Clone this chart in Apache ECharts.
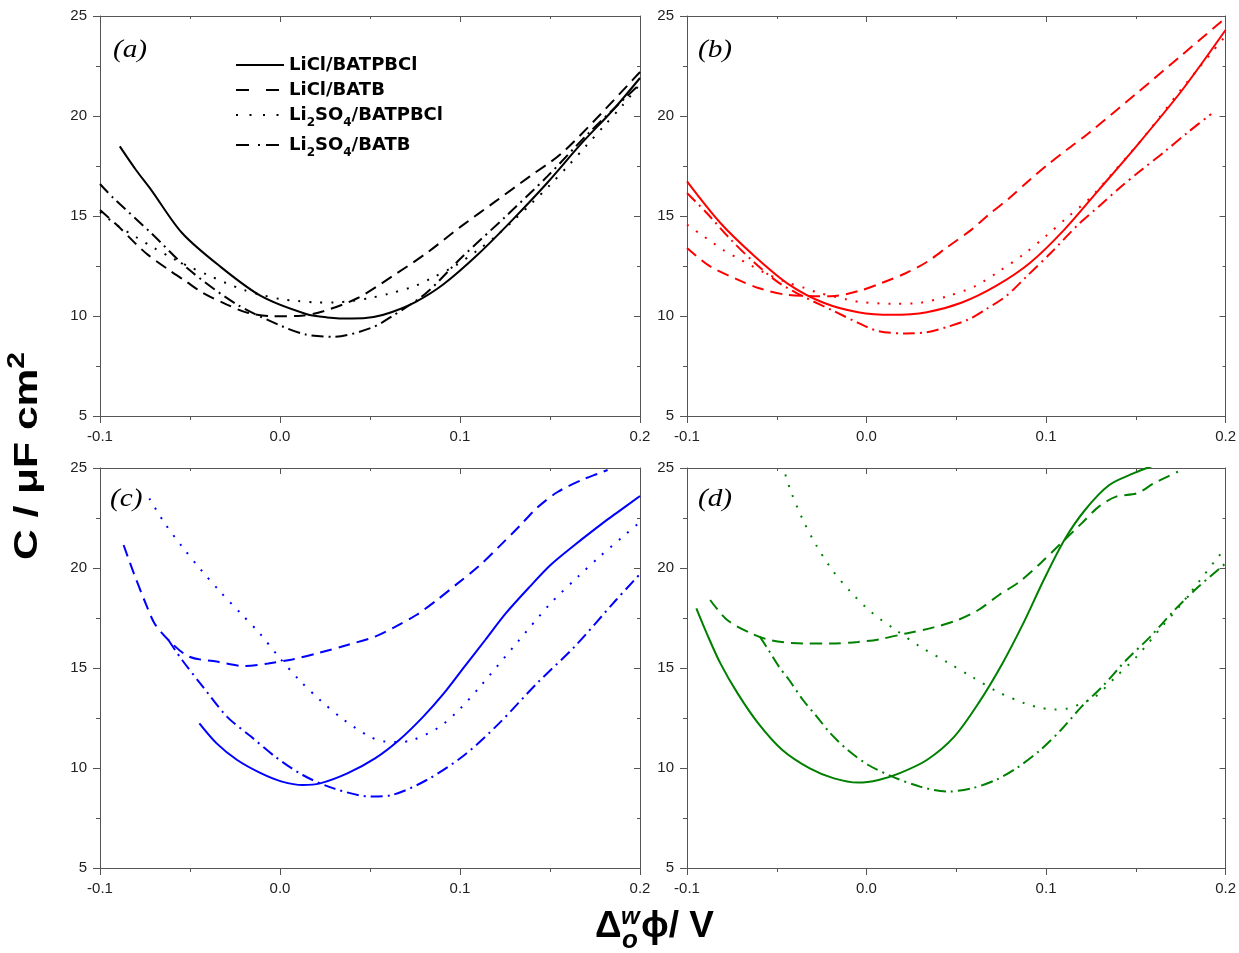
<!DOCTYPE html>
<html><head><meta charset="utf-8">
<script src="https://cdn.jsdelivr.net/npm/echarts@6/dist/echarts.min.js"></script>
<style>html,body{margin:0;padding:0;background:#fff}#c{width:1239px;height:953px}</style>
</head><body><div id="c"></div>
<script>
// ---- axis ranges / labels ----
const X_MIN = -0.1, X_MAX = 0.2, X_STEP = 0.1;
const Y_MIN = 5, Y_MAX = 25, Y_STEP = 5;
const seriesNames = ['LiCl/BATPBCl', 'LiCl/BATB', 'Li2SO4/BATPBCl', 'Li2SO4/BATB'];
const panelLabels = ['(a)', '(b)', '(c)', '(d)'];
const panelColors = ['#000000', '#ff0000', '#0000ff', '#008000'];

// ---- panel (a) ----
const aSolidX = [-0.089, -0.08, -0.0716, -0.0544, -0.0333, -0.0104, 0.0145, 0.0263, 0.04, 0.052, 0.0623, 0.0757, 0.091, 0.1102, 0.1293, 0.1484, 0.1676, 0.185, 0.2];
const aSolidY = [18.48, 17.3, 16.31, 14.15, 12.48, 10.99, 10.1, 9.93, 9.87, 9.95, 10.2, 10.72, 11.6, 13.1, 14.82, 16.65, 18.64, 20.3, 21.9];
const aDashX = [-0.1, -0.09, -0.08, -0.0735, -0.062, -0.0524, -0.0429, -0.0295, -0.018, -0.0046, 0.01, 0.0241, 0.0432, 0.0623, 0.0815, 0.1006, 0.1197, 0.1388, 0.156, 0.175, 0.2];
const aDashY = [15.3, 14.5, 13.6, 13.07, 12.32, 11.74, 11.16, 10.57, 10.16, 9.99, 10.0, 10.24, 10.9, 11.98, 13.15, 14.48, 15.73, 16.98, 18.1, 19.8, 22.2];
const aDotX = [-0.1, -0.09, -0.08, -0.07, -0.06, -0.05, -0.04, -0.03, -0.02, -0.01, 0.0, 0.01, 0.02, 0.03, 0.04, 0.05, 0.06, 0.0747, 0.0843, 0.0968, 0.11, 0.12, 0.13, 0.14, 0.15, 0.16, 0.17, 0.18, 0.19, 0.2];
const aDotY = [15.2, 14.5, 13.95, 13.4, 12.9, 12.45, 12.05, 11.65, 11.3, 11.05, 10.85, 10.75, 10.68, 10.68, 10.75, 10.9, 11.1, 11.49, 11.9, 12.48, 13.3, 14.0, 14.8, 15.65, 16.55, 17.5, 18.5, 19.5, 20.5, 21.6];
const aDDX = [-0.1, -0.0926, -0.0716, -0.0506, -0.0238, 0.0011, 0.0145, 0.0298, 0.0508, 0.0623, 0.0814, 0.1006, 0.1254, 0.1485, 0.1714, 0.2];
const aDDY = [16.6, 15.9, 14.15, 12.32, 10.57, 9.49, 9.07, 8.96, 9.41, 9.99, 11.16, 12.9, 14.98, 16.98, 19.14, 21.6];

// ---- panel (b) ----
const bSolidX = [-0.1, -0.0814, -0.0622, -0.0431, -0.0239, -0.0047, 0.0144, 0.0336, 0.0528, 0.0719, 0.091, 0.1102, 0.1294, 0.1486, 0.175, 0.2];
const bSolidY = [16.73, 14.65, 12.98, 11.57, 10.66, 10.19, 10.06, 10.19, 10.66, 11.49, 12.65, 14.32, 16.31, 18.31, 21.2, 24.3];
const bDashX = [-0.1, -0.0871, -0.0718, -0.0603, -0.045, -0.0201, -0.0047, 0.0087, 0.0221, 0.0336, 0.0451, 0.0585, 0.068, 0.0796, 0.091, 0.1007, 0.1121, 0.1237, 0.15, 0.175, 0.2];
const bDashY = [13.4, 12.48, 11.82, 11.4, 11.07, 10.99, 11.24, 11.66, 12.15, 12.7, 13.45, 14.32, 15.06, 15.9, 16.81, 17.55, 18.35, 19.14, 21.1, 23.0, 24.9];
const bDotX = [-0.1, -0.0929, -0.0862, -0.0795, -0.0718, -0.0642, -0.0565, -0.045, -0.0344, -0.0268, -0.0105, -0.0028, 0.0144, 0.0298, 0.0451, 0.0605, 0.0739, 0.0873, 0.0997, 0.1121, 0.1246, 0.1371, 0.155, 0.175, 0.2];
const bDotY = [14.57, 14.12, 13.7, 13.28, 12.9, 12.52, 12.15, 11.7, 11.4, 11.16, 10.82, 10.69, 10.61, 10.66, 10.99, 11.49, 12.24, 13.07, 13.98, 14.95, 15.9, 17.15, 19.0, 21.3, 24.0];
const bDDX = [-0.1, -0.089, -0.0756, -0.0622, -0.0488, -0.0335, -0.0181, -0.0047, 0.0067, 0.0221, 0.0336, 0.0451, 0.0566, 0.0662, 0.0777, 0.0892, 0.1026, 0.1179, 0.1294, 0.1409, 0.1524, 0.1658, 0.1792, 0.192];
const bDDY = [16.15, 15.15, 13.82, 12.65, 11.66, 10.9, 10.24, 9.66, 9.24, 9.13, 9.19, 9.46, 9.82, 10.32, 10.99, 11.98, 13.15, 14.57, 15.48, 16.4, 17.25, 18.2, 19.2, 20.1];

// ---- panel (c) ----
const cSolidX = [-0.0448, -0.0352, -0.0238, -0.0104, 0.0011, 0.0126, 0.0222, 0.0374, 0.0528, 0.0662, 0.0796, 0.091, 0.1025, 0.114, 0.1254, 0.1388, 0.1503, 0.1637, 0.1791, 0.1867, 0.2];
const cSolidY = [12.23, 11.23, 10.4, 9.73, 9.32, 9.15, 9.23, 9.73, 10.48, 11.4, 12.57, 13.73, 15.07, 16.4, 17.73, 19.07, 20.15, 21.15, 22.23, 22.73, 23.6];
const cDashX = [-0.0869, -0.0812, -0.0754, -0.0697, -0.062, -0.0506, -0.0352, -0.0199, -0.0066, 0.0068, 0.0222, 0.0374, 0.0528, 0.0642, 0.0757, 0.0872, 0.0987, 0.1102, 0.1217, 0.1331, 0.1427, 0.1542, 0.1676, 0.1771, 0.182];
const cDashY = [21.15, 19.73, 18.4, 17.23, 16.4, 15.57, 15.32, 15.1, 15.23, 15.43, 15.77, 16.15, 16.57, 17.07, 17.65, 18.4, 19.23, 20.07, 21.07, 22.1, 23.0, 23.8, 24.4, 24.73, 24.9];
const cDotX = [-0.0726, -0.064, -0.0544, -0.0438, -0.0333, -0.0218, -0.0113, -0.0008, 0.0107, 0.0222, 0.0356, 0.0499, 0.0585, 0.066, 0.0738, 0.0882, 0.0997, 0.1111, 0.1322, 0.15, 0.1656, 0.1771, 0.1905, 0.2];
const cDotY = [23.48, 22.23, 21.07, 19.9, 18.82, 17.73, 16.73, 15.57, 14.4, 13.4, 12.4, 11.57, 11.32, 11.3, 11.4, 12.03, 12.93, 14.07, 16.32, 18.2, 19.57, 20.53, 21.57, 22.3];
const cDDX = [-0.062, -0.0544, -0.0429, -0.0295, -0.0161, -0.0027, 0.0126, 0.0298, 0.0508, 0.0623, 0.0815, 0.1025, 0.1217, 0.1427, 0.1637, 0.1867, 0.2];
const cDDY = [16.4, 15.4, 14.07, 12.57, 11.57, 10.57, 9.65, 8.98, 8.57, 8.65, 9.4, 10.65, 12.23, 14.23, 16.07, 18.4, 19.7];

// ---- panel (d) ----
const dSolidX = [-0.0948, -0.089, -0.0814, -0.0718, -0.0603, -0.0469, -0.0316, -0.0181, -0.0047, 0.0067, 0.0182, 0.0336, 0.0489, 0.0623, 0.0757, 0.0873, 0.0987, 0.1102, 0.1217, 0.1352, 0.1486, 0.1562, 0.165];
const dSolidY = [17.98, 16.73, 15.23, 13.73, 12.23, 10.9, 9.98, 9.48, 9.27, 9.4, 9.73, 10.4, 11.57, 13.23, 15.23, 17.23, 19.4, 21.4, 22.9, 24.15, 24.73, 25.0, 25.3];
const dDashX = [-0.0871, -0.0776, -0.0642, -0.0526, -0.0354, -0.0201, -0.0047, 0.0067, 0.0221, 0.0374, 0.0508, 0.0623, 0.0738, 0.0853, 0.0968, 0.1083, 0.1198, 0.1294, 0.139, 0.1505, 0.16, 0.1677, 0.1735];
const dDashY = [18.4, 17.4, 16.73, 16.37, 16.23, 16.23, 16.3, 16.43, 16.73, 17.03, 17.4, 17.9, 18.65, 19.32, 20.23, 21.23, 22.23, 23.07, 23.57, 23.73, 24.23, 24.57, 24.82];
const dDotX = [-0.047, -0.0421, -0.0354, -0.0281, -0.0191, -0.009, 0.0029, 0.0163, 0.0298, 0.0451, 0.0585, 0.0728, 0.0882, 0.0959, 0.1045, 0.1121, 0.1198, 0.1275, 0.139, 0.1505, 0.1639, 0.1754, 0.185, 0.1945, 0.2];
const dDotY = [25.2, 23.82, 22.4, 21.15, 19.9, 18.82, 17.77, 16.9, 16.07, 15.28, 14.57, 13.82, 13.23, 13.03, 12.93, 12.98, 13.23, 13.57, 14.57, 15.57, 17.0, 18.2, 19.3, 20.4, 21.0];
const dDDX = [-0.0594, -0.0546, -0.0488, -0.0431, -0.0354, -0.0277, -0.0201, -0.0105, 0.001, 0.0144, 0.0298, 0.0451, 0.0585, 0.0719, 0.0834, 0.0968, 0.1083, 0.1198, 0.1313, 0.1447, 0.1581, 0.1716, 0.185, 0.2];
const dDDY = [16.57, 15.9, 15.07, 14.4, 13.4, 12.57, 11.73, 10.9, 10.15, 9.57, 9.07, 8.82, 8.98, 9.4, 9.98, 10.9, 11.9, 13.07, 14.07, 15.4, 16.57, 17.9, 19.07, 20.23];

const panelData = [
  [[aSolidX, aSolidY], [aDashX, aDashY], [aDotX, aDotY], [aDDX, aDDY]],
  [[bSolidX, bSolidY], [bDashX, bDashY], [bDotX, bDotY], [bDDX, bDDY]],
  [[cSolidX, cSolidY], [cDashX, cDashY], [cDotX, cDotY], [cDDX, cDDY]],
  [[dSolidX, dSolidY], [dDashX, dDashY], [dDotX, dDotY], [dDDX, dDDY]]
];

// ---- layout / style ----
const grids = [
  {left: 100, top: 16, width: 540, height: 400},
  {left: 687, top: 16, width: 539, height: 400},
  {left: 100, top: 468, width: 540, height: 400},
  {left: 687, top: 468, width: 539, height: 400}
];
const dashTypes = ['solid', [12, 7], [2, 9], [12, 5, 2, 5]];
const legendDash = ['solid', [13, 17], [2, 11.5], [13, 9, 2, 6]];
const AX = '#555';
const tickFont = {fontSize: 15, color: '#222', fontFamily: 'Liberation Sans, Arial, sans-serif'};

const xAxes = [], yAxes = [], series = [];
grids.forEach((g, i) => {
  xAxes.push({gridIndex: i, type: 'value', position: 'bottom', min: X_MIN, max: X_MAX, interval: X_STEP,
    axisLine: {show: true, onZero: false, lineStyle: {color: AX, width: 1}},
    axisTick: {show: true, inside: false, length: 7, lineStyle: {color: AX}},
    minorTick: {show: true, splitNumber: 2, length: 4, lineStyle: {color: AX}},
    splitLine: {show: false},
    axisLabel: Object.assign({margin: 13, formatter: v => v.toFixed(1)}, tickFont)});
  yAxes.push({gridIndex: i, type: 'value', position: 'left', min: Y_MIN, max: Y_MAX, interval: Y_STEP,
    axisLine: {show: true, onZero: false, lineStyle: {color: AX, width: 1}},
    axisTick: {show: true, inside: false, length: 7, lineStyle: {color: AX}},
    minorTick: {show: true, splitNumber: 2, length: 4, lineStyle: {color: AX}},
    splitLine: {show: false},
    axisLabel: Object.assign({margin: 13}, tickFont)});
});
grids.forEach((g, i) => {
  xAxes.push({gridIndex: i, type: 'value', position: 'top', min: X_MIN, max: X_MAX, interval: X_STEP,
    axisLine: {show: true, onZero: false, lineStyle: {color: AX, width: 1}},
    axisTick: {show: true, inside: true, length: 6, lineStyle: {color: AX}},
    minorTick: {show: true, splitNumber: 2, length: 3, lineStyle: {color: AX}},
    splitLine: {show: false}, axisLabel: {show: false}});
  yAxes.push({gridIndex: i, type: 'value', position: 'right', min: Y_MIN, max: Y_MAX, interval: Y_STEP,
    axisLine: {show: true, onZero: false, lineStyle: {color: AX, width: 1}},
    axisTick: {show: true, inside: true, length: 6, lineStyle: {color: AX}},
    minorTick: {show: true, splitNumber: 2, length: 3, lineStyle: {color: AX}},
    splitLine: {show: false}, axisLabel: {show: false}});
});

panelData.forEach((sets, p) => {
  sets.forEach((xy, k) => {
    const xs = xy[0], ys = xy[1];
    series.push({
      type: 'line', name: seriesNames[k], xAxisIndex: p, yAxisIndex: p,
      data: xs.map((x, j) => [x, ys[j]]),
      symbol: 'none', smooth: 0.3, clip: true, silent: true,
      lineStyle: {color: panelColors[p], width: 2, type: dashTypes[k]},
      itemStyle: {color: panelColors[p]}
    });
  });
});

const subFmt = name => name.split(/(\d)/).filter(s => s.length)
  .map(s => /^\d$/.test(s) ? '{s|' + s + '}' : '{n|' + s + '}').join('');

const graphics = [];
const labelPos = [[113, 50], [698, 50], [110, 499], [698, 499]];
panelLabels.forEach((t, i) => {
  graphics.push({type: 'text', x: labelPos[i][0], y: labelPos[i][1], scaleX: 1.17,
    style: {text: t, fontSize: 25, fontStyle: 'italic', fontFamily: 'Liberation Serif, Times New Roman, serif',
      fill: '#000', align: 'left', verticalAlign: 'middle'}});
});
// y-axis title
graphics.push({type: 'text', x: 28, y: 456, rotation: Math.PI / 2, scaleX: 1.25,
  style: {text: '{m|C / μF cm}{s|2}', align: 'center', verticalAlign: 'middle', fill: '#000',
    rich: {
      m: {fontSize: 34, fontWeight: 'bold', fontFamily: 'Liberation Sans, Arial, sans-serif', lineHeight: 34, verticalAlign: 'bottom', fill: '#000'},
      s: {fontSize: 24, fontWeight: 'bold', fontFamily: 'Liberation Sans, Arial, sans-serif', lineHeight: 24, verticalAlign: 'bottom', padding: [0, 0, 16, 0], fill: '#000'}
    }}});
// x-axis title
const xt = {fontWeight: 'bold', fontFamily: 'Liberation Sans, Arial, DejaVu Sans, sans-serif', fill: '#000', align: 'left', verticalAlign: 'middle'};
graphics.push({type: 'text', x: 595, y: 927, style: Object.assign({text: 'Δ', fontSize: 37}, xt)});
graphics.push({type: 'text', x: 621, y: 917, style: Object.assign({text: 'w', fontSize: 24, fontStyle: 'italic'}, xt)});
graphics.push({type: 'text', x: 622, y: 941, style: Object.assign({text: 'o', fontSize: 26, fontStyle: 'italic'}, xt)});
graphics.push({type: 'text', x: 641, y: 927, style: Object.assign({text: 'ϕ/ V', fontSize: 37}, xt)});

const option = {
  animation: false,
  backgroundColor: '#fff',
  grid: grids,
  xAxis: xAxes,
  yAxis: yAxes,
  series: series,
  legend: {
    show: true, orient: 'vertical', left: 230, top: 51, padding: 5,
    itemWidth: 48, itemHeight: 4, itemGap: 7,
    itemStyle: {color: 'rgba(0,0,0,0)', borderColor: 'rgba(0,0,0,0)', borderWidth: 0, opacity: 0},
    data: seriesNames.map((n, k) => ({name: n, lineStyle: {type: legendDash[k], width: 2, color: '#000', opacity: 1}})),
    formatter: subFmt,
    textStyle: {
      color: '#000',
      rich: {
        n: {fontSize: 18, fontWeight: 'bold', fontFamily: 'DejaVu Sans, sans-serif', lineHeight: 28, verticalAlign: 'middle', color: '#000'},
        s: {fontSize: 12, fontWeight: 'bold', fontFamily: 'DejaVu Sans, sans-serif', verticalAlign: 'bottom', color: '#000'}
      }
    },
    selectedMode: false
  },
  graphic: graphics
};
const chart = echarts.init(document.getElementById('c'), null, {renderer: 'canvas'});
chart.setOption(option);
</script>
</body></html>
